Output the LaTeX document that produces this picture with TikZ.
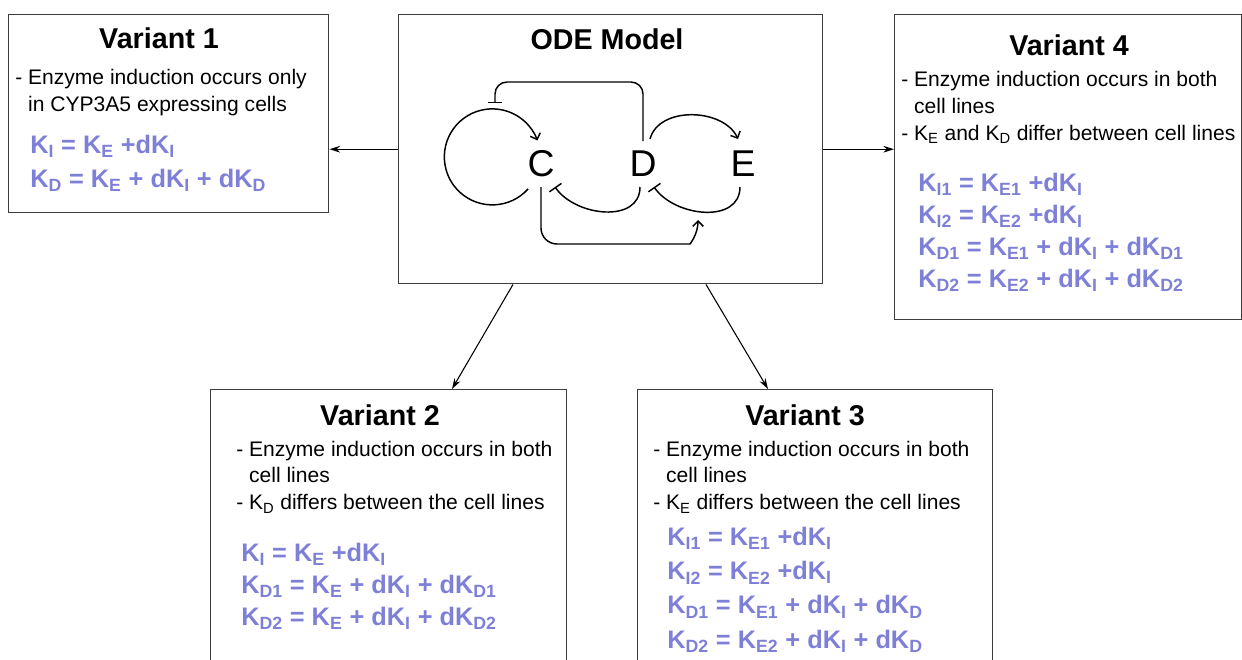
\documentclass[tikz,border=0pt]{standalone}
\usepackage{fontspec}
\setmainfont{Liberation Sans}
\usepackage{xcolor}
\usepackage{tikz}
\usetikzlibrary{arrows.meta, calc}
\definecolor{RateBlue}{HTML}{7E80D8}
\definecolor{FrameGray}{HTML}{3C3C3C}
\newcommand{\Kx}[1]{K\textsubscript{#1}}

\tikzset{
  panel/.style={draw=FrameGray, line width=1.1pt, rectangle, anchor=north west, inner sep=0pt},
  ttl/.style={font=\fontsize{21.5}{24}\selectfont\bfseries, anchor=base, inner sep=0pt},
  notes/.style={font=\fontsize{15.8}{20}\selectfont, align=left, anchor=north west, inner sep=0pt},
  eqs/.style={font=\fontsize{19}{#1}\selectfont\bfseries, text=RateBlue, align=left, anchor=north west, inner sep=0pt},
  species/.style={font=\fontsize{28}{28}\selectfont, inner sep=0pt},
  link/.style={-{Stealth[length=8pt, width=5pt]}, line width=0.8pt},
  act/.style={-{Straight Barb[length=4pt, width=8pt]}, line width=1.1pt},
  inh/.style={-{Bar[width=11pt]}, line width=1.1pt}
}

\begin{document}
\begin{tikzpicture}[x=0.75pt, y=0.75pt]
      \useasboundingbox (0,0) rectangle (1242,-660);
      % Boxes
      \node[panel, minimum width=240pt, minimum height=148.5pt] (v1) at (8,-14) {};
      \node[panel, minimum width=318pt, minimum height=201.75pt] (ode) at (398,-14) {};
      \node[panel, minimum width=260.25pt, minimum height=228.75pt] (v4) at (894,-14) {};
      \node[panel, minimum width=267pt, minimum height=207pt] (v2) at (210,-389) {};
      \node[panel, minimum width=266.25pt, minimum height=207pt] (v3) at (637,-389) {};
      % Titles
      \node[ttl] (odetitle) at (607,-50) {ODE Model};
      \node[ttl] (v1title) at (159,-49) {Variant 1};
      \node[ttl] (v4title) at (1069,-56) {Variant 4};
      \node[ttl] (v2title) at (380,-425) {Variant 2};
      \node[ttl] (v3title) at (805,-425) {Variant 3};
      % Variant 1
      \node[notes] (v1notes) at (15,-69.4) {- Enzyme induction occurs only\\\phantom{- }in CYP3A5 expressing cells};
      \node[eqs=25.5pt] (v1eqs) at (30,-134.7) {\Kx{I} = \Kx{E} +d\Kx{I}\\
        \Kx{D} = \Kx{E} + d\Kx{I} + d\Kx{D}};
      % Variant 4
      \node[notes] (v4notes) at (901,-71.4) {- Enzyme induction occurs in both\\\phantom{- }cell lines\\
        - \Kx{E} and \Kx{D} differ between cell lines};
      \node[eqs=24pt] (v4eqs) at (918,-172.7) {\Kx{I1} = \Kx{E1} +d\Kx{I}\\
        \Kx{I2} = \Kx{E2} +d\Kx{I}\\
        \Kx{D1} = \Kx{E1} + d\Kx{I} + d\Kx{D1}\\
        \Kx{D2} = \Kx{E2} + d\Kx{I} + d\Kx{D2}};
      % Variant 2
      \node[notes] (v2notes) at (236,-440.7) {- Enzyme induction occurs in both\\\phantom{- }cell lines\\
        - \Kx{D} differs between the cell lines};
      \node[eqs=24pt] (v2eqs) at (241,-542.7) {\Kx{I} = \Kx{E} +d\Kx{I}\\
        \Kx{D1} = \Kx{E} + d\Kx{I} + d\Kx{D1}\\
        \Kx{D2} = \Kx{E} + d\Kx{I} + d\Kx{D2}};
      % Variant 3
      \node[notes] (v3notes) at (653,-440.7) {- Enzyme induction occurs in both\\\phantom{- }cell lines\\
        - \Kx{E} differs between the cell lines};
      \node[eqs=25.7pt] (v3eqs) at (667,-526.7) {\Kx{I1} = \Kx{E1} +d\Kx{I}\\
        \Kx{I2} = \Kx{E2} +d\Kx{I}\\
        \Kx{D1} = \Kx{E1} + d\Kx{I} + d\Kx{D}\\
        \Kx{D2} = \Kx{E2} + d\Kx{I} + d\Kx{D}};
      % ODE species
      \node[species] (C) at (541,-164) {C};
      \node[species] (D) at (643,-164) {D};
      \node[species] (E) at (743,-164) {E};
      \coordinate (hit) at (698,-220);
      % Interactions
      \draw[act] ($(C)+(-13,-25)$) arc[start angle=-42, end angle=-340, radius=36pt];
      \draw[inh, rounded corners=9pt] ($(D)+(0,23)$) -- ++(0,59) -| ($(C)+(-46,61)$);
      \draw[act] ($(D)+(7,25)$) to[out=75, in=115] ($(E)+(-5,25)$);
      \draw[inh] ($(E)+(-3,-23)$) to[out=-90, in=-55, looseness=1.1] ($(D)+(11,-23)$);
      \draw[inh] ($(D)+(-3,-23)$) to[out=-90, in=-55, looseness=1.1] ($(C)+(14,-23)$);
      \draw[act] ($(C)+(0,-23)$) [rounded corners=12pt] |- ($(hit)+(-24,-24)$)
        [sharp corners] .. controls ($(hit)+(-8,-24)$) and ($(hit)+(0,-14)$) .. (hit);
      % Links to variants
      \draw[link] (ode.west) -- (ode.west -| v1.east);
      \draw[link] (ode.east) -- (ode.east -| v4.west);
      \draw[link] ($(ode.south west)+(115,0)$) -- ($(v2.north west)+(242,0)$);
      \draw[link] ($(ode.south west)+(308,0)$) -- ($(v3.north west)+(131,0)$);
    \end{tikzpicture}
\end{document}
